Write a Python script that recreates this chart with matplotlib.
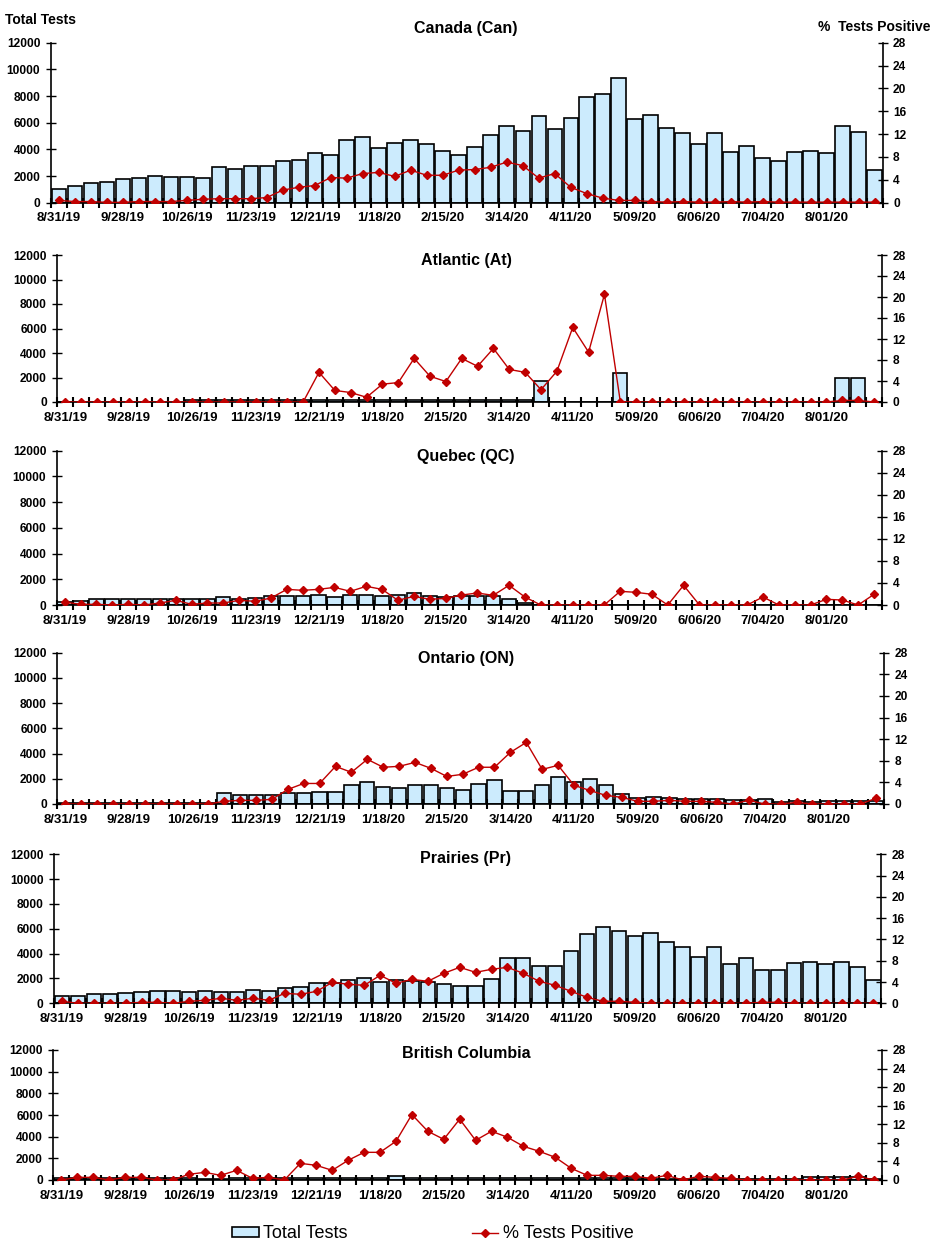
import numpy as np
import matplotlib
matplotlib.use("Agg")
import matplotlib.pyplot as plt
from matplotlib.patches import Patch
from matplotlib.lines import Line2D

plt.rcParams['font.family'] = ['Liberation Sans', 'DejaVu Sans']

W, H = 934, 1257

# week labels shown every 4th week
week_labels = ["8/31/19", "9/28/19", "10/26/19", "11/23/19", "12/21/19", "1/18/20",
               "2/15/20", "3/14/20", "4/11/20", "5/09/20", "6/06/20", "7/04/20", "8/01/20"]
n_weeks = 52

# Canada
can_tests = [1000, 1225, 1475, 1550, 1750, 1825, 1975, 1900, 1900, 1825, 2650, 2500, 2725,
             2725, 3100, 3175, 3700, 3550, 4675, 4900, 4075, 4450, 4675, 4375, 3850, 3550,
             4150, 5050, 5725, 5350, 6475, 5500, 6325, 7900, 8125, 9325, 6250, 6550, 5575,
             5200, 4375, 5200, 3775, 4225, 3325, 3100, 3775, 3850, 3700, 5725, 5275, 2425]
can_pct = [0.4, 0.2, 0.2, 0.06, 0.06, 0.2, 0.2, 0.2, 0.4, 0.6, 0.7, 0.7, 0.7, 0.9, 2.2, 2.7,
           3.0, 4.4, 4.3, 5.1, 5.3, 4.6, 5.7, 4.8, 4.8, 5.7, 5.8, 6.2, 7.1, 6.5, 4.3, 5.1,
           2.7, 1.6, 0.8, 0.4, 0.4, 0.2, 0.1, 0.2, 0.1, 0.1, 0.2, 0.1, 0.2, 0.1, 0.1, 0.1,
           0.1, 0.1, 0.1, 0.1]

# Atlantic
at_tests = [20] * 8 + [130] * 22 + [1690, 0, 0, 0, 0, 2340] + [0] * 13 + [1960, 1960, 0]
at_pct = [0] * 16 + [5.65, 2.2, 1.8, 0.9, 3.4, 3.7, 8.3, 4.9, 3.9, 8.3, 6.8, 10.2, 6.2,
                     5.65, 2.35, 5.85, 14.2, 9.5, 20.5, 0.06] + [0] * 13 + [0.3, 0.3, 0]

# Quebec
qc_tests = [233, 285, 440, 440, 490, 490, 490, 490, 490, 440, 595, 490, 570, 673, 673, 673,
            750, 595, 750, 750, 673, 750, 906, 673, 595, 673, 725, 725, 490, 155] + [0] * 22
qc_pct = [0.54, 0.12, 0.12, 0, 0.12, 0, 0.36, 0.85, 0.12, 0.36, 0.36, 0.85, 0.67, 1.27,
          2.84, 2.66, 2.84, 3.2, 2.48, 3.39, 2.84, 0.85, 1.57, 1.03, 1.2, 1.8, 2.18, 1.75,
          3.57, 1.45, 0, 0, 0, 0, 0, 2.48, 2.3, 1.94, 0, 3.57, 0, 0, 0, 0, 1.45, 0, 0, 0,
          1.03, 0.9, 0, 1.94]

# Ontario
on_tests = [60] * 9 + [105, 846, 687, 687, 687, 846, 846, 925, 925, 1480, 1718, 1321, 1242,
                       1480, 1480, 1242, 1084, 1560, 1877, 1004, 1004, 1480, 2114, 1718,
                       1956, 1480, 766, 450, 529, 450, 370, 370, 370, 290, 290, 370, 132,
                       211, 132, 211, 211, 211, 211]
on_pct = [0] * 10 + [0.5, 0.68, 0.68, 0.86, 2.7, 3.8, 3.8, 6.97, 5.86, 8.27, 6.8, 6.97, 7.7,
                     6.6, 5.1, 5.5, 6.8, 6.8, 9.56, 11.4, 6.4, 7.16, 3.46, 2.5, 1.6, 1.23,
                     0.5, 0.5, 0.68, 0.5, 0.5, 0.3, 0, 0.68, 0, 0, 0.3, 0, 0, 0, 0, 1.05]

# Prairies
pr_tests = [564, 564, 725, 725, 805, 886, 967, 967, 886, 967, 886, 886, 1047, 967, 1208,
            1289, 1611, 1611, 1853, 2014, 1692, 1853, 1772, 1692, 1530, 1369, 1369, 1933,
            3625, 3625, 2980, 2980, 4189, 5558, 6122, 5800, 5397, 5639, 4914, 4511, 3705,
            4511, 3141, 3625, 2658, 2658, 3222, 3303, 3141, 3303, 2900, 1853]
pr_pct = [0.38, 0, 0, 0, 0, 0.19, 0.19, 0, 0.38, 0.56, 0.94, 0.56, 0.94, 0.56, 1.88, 1.69,
          2.25, 3.94, 3.57, 3.38, 5.26, 3.76, 4.5, 4.13, 5.63, 6.76, 5.82, 6.39, 6.76, 5.63,
          4.13, 3.38, 2.25, 1.13, 0.38, 0.38, 0.19, 0, 0, 0, 0, 0, 0, 0, 0.19, 0.19, 0, 0,
          0, 0, 0, 0]

# British Columbia
bc_tests = [150, 180, 180, 150, 150, 180, 180, 150, 150, 100, 100, 150, 200, 200, 180, 200,
            200, 200, 200, 200, 220, 340, 230, 220, 200, 200, 200, 200, 200, 200, 200, 200,
            200, 200, 200, 200, 150, 100, 100, 100, 100, 100, 100, 100, 100, 100, 100, 250,
            250, 250, 250, 100]
bc_pct = [0, 0.57, 0.57, 0, 0.57, 0.57, 0, 0, 1.22, 1.65, 1.0, 2.08, 0.36, 0.57, 0, 3.59,
          3.16, 2.08, 4.24, 5.96, 5.96, 8.33, 14.1, 10.5, 8.76, 13.1, 8.54, 10.5, 9.2, 7.25,
          6.17, 4.88, 2.51, 1.0, 1.0, 0.79, 0.79, 0.36, 1.0, 0, 0.79, 0.57, 0.36, 0, 0, 0,
          0, 0, 0, 0, 0.79, 0]

panels = [
    ("Canada (Can)", can_tests, can_pct, (50.7, 882.7, 42.7, 202.7), 28),
    ("Atlantic (At)", at_tests, at_pct, (57.3, 882, 255, 402), 260),
    ("Quebec (QC)", qc_tests, qc_pct, (56.7, 882, 450.7, 605), 456),
    ("Ontario (ON)", on_tests, on_pct, (57.3, 884, 652.7, 804), 658),
    ("Prairies (Pr)", pr_tests, pr_pct, (54, 881.3, 854.3, 1003.3), 859),
    ("British Columbia", bc_tests, bc_pct, (53.3, 882, 1050, 1180), 1054),
]

bar_color = '#CCEBFD'
red = '#C00000'

fig = plt.figure(figsize=(W / 100, H / 100), dpi=100)

x = np.arange(n_weeks)
for title, tests, pct, (l, r, t, b), ty in panels:
    ax = fig.add_axes([l / W, 1 - b / H, (r - l) / W, (b - t) / H])
    ax.bar(x, tests, width=0.9, color=bar_color, edgecolor='black', linewidth=1.2)
    ax.set_xlim(-0.5, n_weeks - 0.5)
    ax.set_ylim(0, 12000)
    ax.set_yticks(np.arange(0, 12001, 2000))
    ax.set_xticks(np.arange(0, n_weeks, 4))
    ax.set_xticklabels(week_labels, fontsize=9.5, fontweight='bold')
    ax.set_xticks(np.arange(-0.5, n_weeks, 1), minor=True)
    ax.tick_params(axis='x', which='major', length=0, pad=7)
    ax.tick_params(axis='x', which='minor', direction='inout', length=7, width=1.5)
    ax.tick_params(axis='y', direction='inout', length=7, width=1, pad=4, labelsize=8.6)
    for lab in ax.get_yticklabels():
        lab.set_fontweight('bold')
    ax.spines['top'].set_visible(False)
    ax.spines['right'].set_visible(False)
    for s in ['left', 'bottom']:
        ax.spines[s].set_linewidth(1.2)

    ax2 = ax.twinx()
    ax2.plot(x, pct, color=red, linewidth=1, marker='D', markersize=4,
             markerfacecolor=red, markeredgecolor=red)
    ax2.set_ylim(0, 28)
    ax2.set_yticks(np.arange(0, 29, 4))
    ax2.tick_params(axis='y', direction='inout', length=7, width=1, pad=4, labelsize=8.6)
    for lab in ax2.get_yticklabels():
        lab.set_fontweight('bold')
    for s in ['top', 'left', 'bottom']:
        ax2.spines[s].set_visible(False)
    ax2.spines['right'].set_linewidth(1.2)

    fig.text(466 / W, 1 - ty / H, title, ha='center', va='center',
             fontsize=11.5, fontweight='bold')

fig.text(5 / W, 1 - 20 / H, "Total Tests", ha='left', va='center',
         fontsize=10, fontweight='bold')
fig.text(818 / W, 1 - 27 / H, "%  Tests Positive", ha='left', va='center',
         fontsize=10, fontweight='bold')

handles = [Patch(facecolor=bar_color, edgecolor='black', linewidth=1.2),
           Line2D([], [], color=red, linewidth=1, marker='D', markersize=4)]
fig.legend(handles, ["Total Tests", "% Tests Positive"], loc='center',
           bbox_to_anchor=(433 / W, 1 - 1234 / H), ncol=2, frameon=False,
           fontsize=13, handlelength=1.45, handleheight=0.5, handletextpad=0.25,
           columnspacing=6.9)

fig.savefig("out.png", dpi=100)
